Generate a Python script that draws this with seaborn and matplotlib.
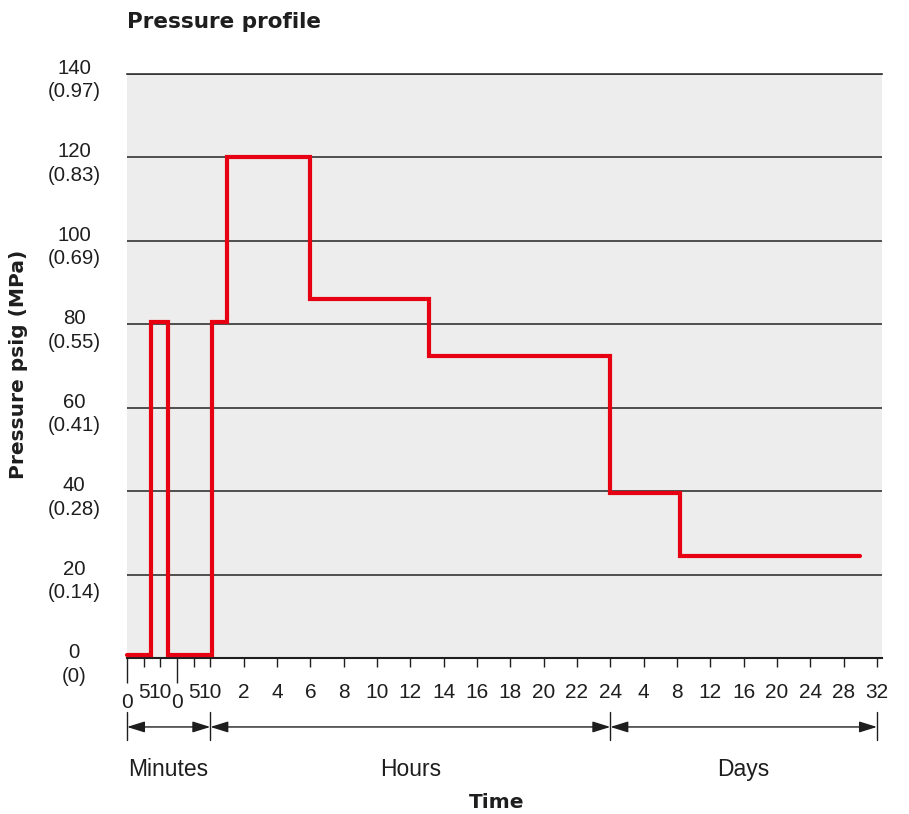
import numpy as np
import pandas as pd
import matplotlib
matplotlib.use("Agg")
import matplotlib.pyplot as plt
import matplotlib.transforms as mtransforms
import seaborn as sns

# pressure steps: (unit, time where the level starts, level in psig)
step_unit = ['min', 'min', 'min', 'h', 'h', 'h', 'h', 'h', 'd', 'd']
step_time = [0, 7.2, 12.3, 0.1, 1.0, 6.0, 13.1, 24.0, 8.4, 30.0]
step_psig = [0.8, 80.6, 0.8, 80.6, 120, 86, 72.5, 39.6, 24.5, 24.5]

y_psig = [0, 20, 40, 60, 80, 100, 120, 140]
y_mpa = ['0', '0.14', '0.28', '0.41', '0.55', '0.69', '0.83', '0.97']

min_ticks = [0, 5, 10, 15, 20, 25]          # two blocks of 0-10 minutes
min_labels = ['0', '5', '10', '0', '5', '10']
hour_ticks = [2, 4, 6, 8, 10, 12, 14, 16, 18, 20, 22, 24]
day_ticks = [4, 8, 12, 16, 20, 24, 28, 32]


def to_pos(unit, t):
    # piecewise time scale: minutes | hours | days
    if unit == 'min':
        return t / 5
    if unit == 'h':
        return 5 + t
    return 29 + t / 2


df = pd.DataFrame({
    'pos': [to_pos(u, t) for u, t in zip(step_unit, step_time)],
    'psig': step_psig,
})

sns.set_style("white")
plt.rcParams['font.family'] = ['Liberation Sans', 'DejaVu Sans']

red = '#e60012'
ink = '#1e1e1e'
fig = plt.figure(figsize=(9.09, 8.14), dpi=100)
ax = fig.add_axes([0.1397, 0.1916, 0.9703 - 0.1397, 0.9091 - 0.1916])
ax.set_facecolor('#ecedec')

sns.lineplot(data=df, x='pos', y='psig', drawstyle='steps-post', color=red,
             linewidth=3, sort=False, estimator=None, ax=ax,
             solid_joinstyle='miter', clip_on=False, zorder=5)

ax.set_xlim(0, 45.3)
ax.set_ylim(0, 140)

# y axis
ax.set_yticks(y_psig)
ax.set_yticklabels([f'{p}\n({m})' for p, m in zip(y_psig, y_mpa)], fontsize=14.7,
                   ha='center', multialignment='center', linespacing=1.3, color=ink)
ax.tick_params(axis='y', length=0, pad=38)
ax.yaxis.grid(True, color='#333333', linewidth=1.2)
ax.xaxis.grid(False)

# x axis: the "0" of each minute block sits on a longer tick, lower down
min_pos = [to_pos('min', m) for m in min_ticks]
major_pos, major_lab, minor_pos, minor_lab = [], [], [], []
for p, l in zip(min_pos, min_labels):
    if l == '0':
        minor_pos.append(p)
        minor_lab.append(l)
    else:
        major_pos.append(p)
        major_lab.append(l)
major_pos += [to_pos('h', h) for h in hour_ticks] + [to_pos('d', d) for d in day_ticks]
major_lab += [str(h) for h in hour_ticks] + [str(d) for d in day_ticks]
ax.set_xticks(major_pos, labels=major_lab)
ax.set_xticks(minor_pos, labels=minor_lab, minor=True)
ax.tick_params(axis='x', which='major', direction='out', length=6.5, width=1,
               color=ink, pad=11.5, bottom=True, labelsize=15, labelcolor=ink)
ax.tick_params(axis='x', which='minor', direction='out', length=18, width=1,
               color=ink, pad=7, bottom=True, labelsize=15, labelcolor=ink)

# nudge the two-line y labels a little below their grid line
shift = mtransforms.ScaledTranslation(0, -0.02, fig.dpi_scale_trans)
for lab in ax.get_yticklabels():
    lab.set_transform(lab.get_transform() + shift)

for side in ['left', 'right']:
    ax.spines[side].set_visible(False)
ax.spines['top'].set_color('#333333')
ax.spines['top'].set_linewidth(1.2)
ax.spines['bottom'].set_color(ink)
ax.spines['bottom'].set_linewidth(1.5)

# dimension arrows under the axis
trans = ax.get_xaxis_transform()
bounds = [0, 5, 29, 45]
for b in bounds:
    ax.plot([b, b], [-0.0925, -0.1404], color=ink, linewidth=1,
            transform=trans, clip_on=False)
for a, b in zip(bounds[:-1], bounds[1:]):
    ax.annotate('', xy=(b, -0.118), xytext=(a, -0.118),
                xycoords=trans, textcoords=trans,
                arrowprops=dict(arrowstyle='<|-|>,head_length=0.9,head_width=0.28',
                                color=ink, lw=1, mutation_scale=12,
                                shrinkA=0, shrinkB=0))
for name, c in zip(['Minutes', 'Hours', 'Days'], [2.5, 17, 37]):
    ax.text(c, -0.19, name, transform=trans, ha='center', va='center', fontsize=16.5,
            color=ink)

bold = ['DejaVu Sans']
ax.set_xlabel('Time', fontsize=14.5, fontweight='bold', va='center', family=bold, color=ink)
ax.xaxis.set_label_coords(0.49, -0.2466)
ax.set_ylabel('Pressure psig (MPa)', fontsize=14.5, fontweight='bold', va='center',
              ha='center', family=bold, color=ink)
ax.yaxis.set_label_coords(-0.144, 0.502)
ax.set_title('Pressure profile', loc='left', fontsize=15.5, fontweight='bold', pad=33,
             family=bold, color=ink)

fig.savefig('out.png', dpi=100)
